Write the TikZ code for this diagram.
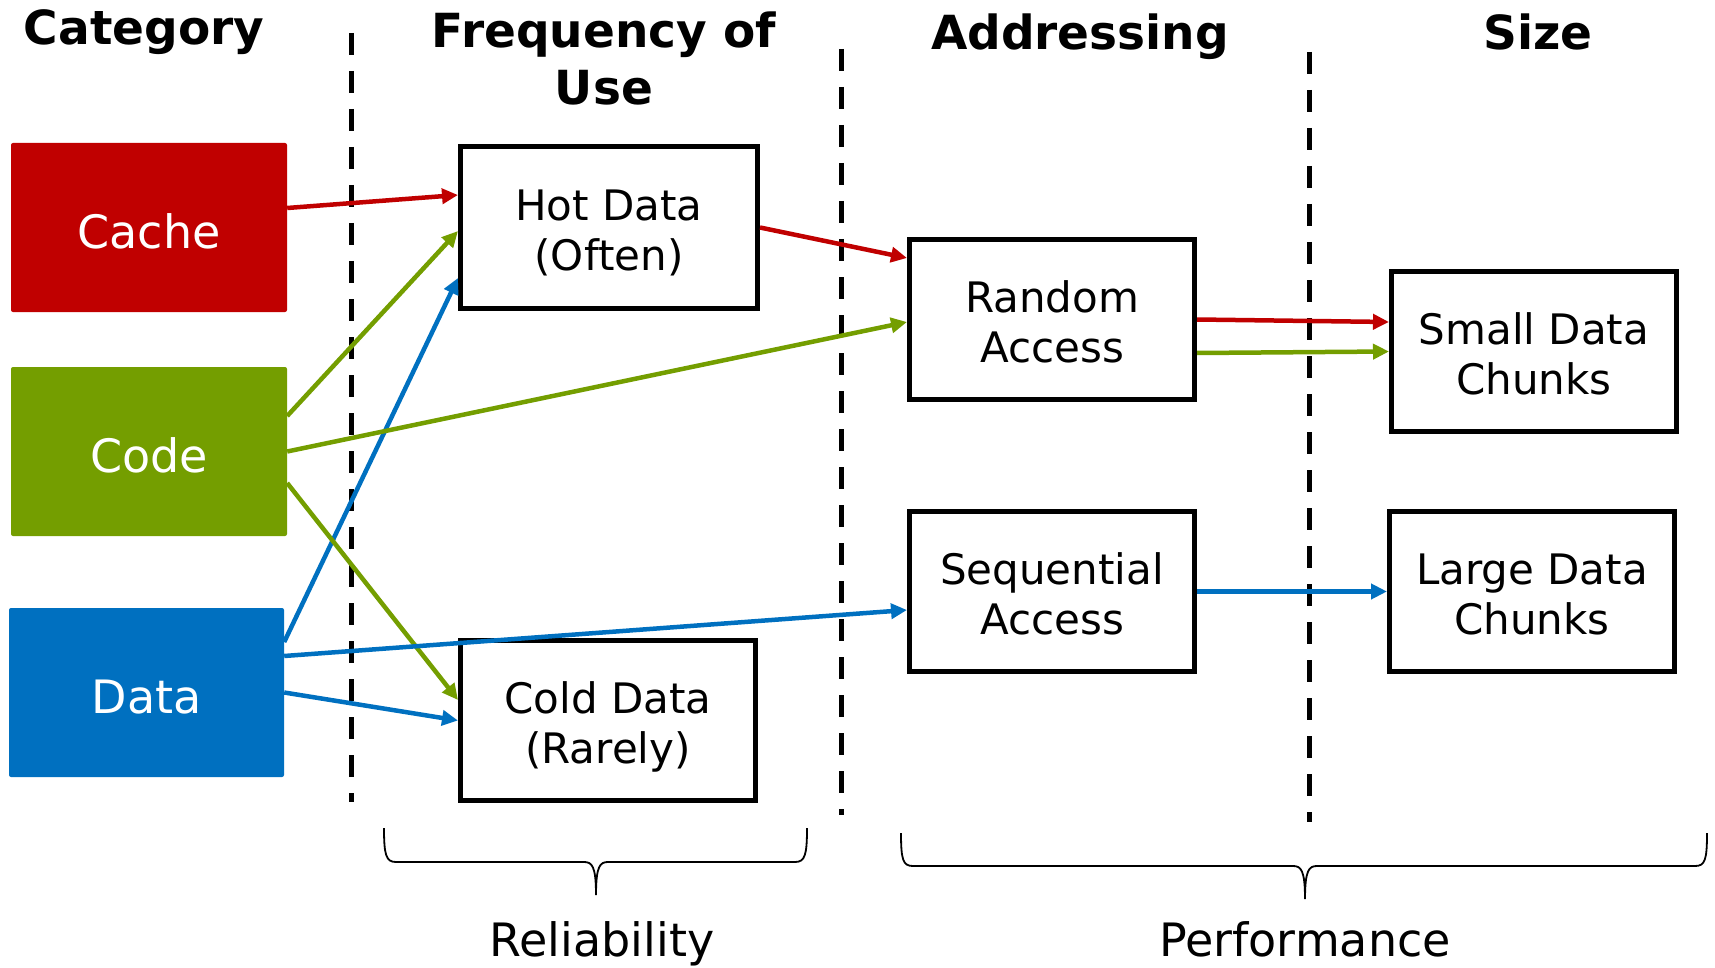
\documentclass[tikz,border=0pt]{standalone}
\usepackage{fontspec}
\setmainfont{DejaVu Sans}
\usetikzlibrary{arrows.meta}
\definecolor{cred}{RGB}{192,0,0}
\definecolor{cgreen}{RGB}{116,158,0}
\definecolor{cblue}{RGB}{0,112,192}
\begin{document}
\begin{tikzpicture}[x=1pt,y=-1pt,
  catbox/.style={draw=none, fill=#1, text=white, minimum width=276pt, minimum height=169pt,
    inner sep=0pt, rounded corners=2pt, text height=42pt, text depth=0pt,
    font=\fontsize{46}{55}\selectfont},
  wbox/.style={draw=black, line width=5pt, fill=white, inner sep=0pt, align=center,
    minimum height=160pt, text height=95pt, text depth=10pt,
    font=\fontsize{42}{50}\selectfont},
  hdr/.style={font=\bfseries\fontsize{47}{57}\selectfont, align=center, inner sep=0pt},
  lbl/.style={font=\fontsize{46}{55}\selectfont, inner sep=0pt},
  conn/.style={line width=4.5pt, -{Triangle[length=16pt,width=15pt]}},
  sep/.style={line width=5pt, dash pattern=on 22pt off 16pt},
  brc/.style={line width=1.8pt}]
\useasboundingbox (0,0) rectangle (1715,968);

% separators
\draw[sep] (351,33) -- (351,802);
\draw[sep] (841,49) -- (841,815);
\draw[sep] (1309,52) -- (1309,822);

% headers
\node[hdr, anchor=base] (hcat) at (144,45) {Category};
\node[hdr] (hfreq) at (604,58) {Frequency of\\Use};
\node[hdr, anchor=base] (hadr) at (1080,50) {Addressing};
\node[hdr, anchor=base] (hsize) at (1538,50) {Size};

% category boxes
\node[catbox=cred] (cache) at (149,227.5) {Cache};
\node[catbox=cgreen] (code) at (149,451.5) {Code};
\node[catbox=cblue, minimum width=275pt] (data) at (146.5,692.5) {Data};

% white boxes
\node[wbox, minimum width=297pt, minimum height=162pt] (hot) at (609,227.5) {Hot Data\\(Often)};
\node[wbox, minimum width=295pt] (cold) at (608,720.5) {Cold Data\\(Rarely)};
\node[wbox, minimum width=285pt] (rand) at (1052,319.5) {Random\\Access};
\node[wbox, minimum width=285pt] (seq) at (1052,591.5) {Sequential\\Access};
\node[wbox, minimum width=285pt] (small) at (1534,351.5) {Small Data\\Chunks};
\node[wbox, minimum width=285pt] (large) at (1532,591.5) {Large Data\\Chunks};

% connectors
\draw[conn, cred] ([yshift=19.5pt]cache.east) -- ([yshift=32.5pt]hot.west);
\draw[conn, cgreen] ([yshift=35.5pt]code.east) -- ([yshift=-3.5pt]hot.west);
\draw[conn, cblue] ([yshift=50.5pt]data.east) -- ([yshift=-50.5pt]hot.west);
\draw[conn, cgreen] (code.east) -- ([yshift=-2.5pt]rand.west);
\draw[conn, cgreen] ([yshift=-31.5pt]code.east) -- ([yshift=20.5pt]cold.west);
\draw[conn, cblue] ([yshift=36.5pt]data.east) -- ([yshift=-18.5pt]seq.west);
\draw[conn, cblue] (data.east) -- (cold.west);
\draw[conn, cred] (hot.east) -- ([yshift=61.5pt]rand.west);
\draw[conn, cred] (rand.east) -- ([yshift=29.5pt]small.west);
\draw[conn, cgreen] ([yshift=-33.5pt]rand.east) -- (small.west);
\draw[conn, cblue] (seq.east) -- (large.west);

% braces
\draw[brc] (384,828) .. controls (384,855) and (386,862) .. (396,862) -- (584,862)
  .. controls (592,862) and (596,866) .. (596,895)
  .. controls (596,866) and (600,862) .. (608,862) -- (795,862)
  .. controls (805,862) and (807,855) .. (807,828);
\draw[brc] (901,833) .. controls (901,860) and (903,866) .. (913,866) -- (1293,866)
  .. controls (1301,866) and (1305,870) .. (1305,899)
  .. controls (1305,870) and (1309,866) .. (1317,866) -- (1695,866)
  .. controls (1705,866) and (1707,860) .. (1707,833);

% bottom labels
\node[lbl, anchor=base] (rel) at (602,956) {Reliability};
\node[lbl, anchor=base] (perf) at (1305,956) {Performance};
\end{tikzpicture}
\end{document}
